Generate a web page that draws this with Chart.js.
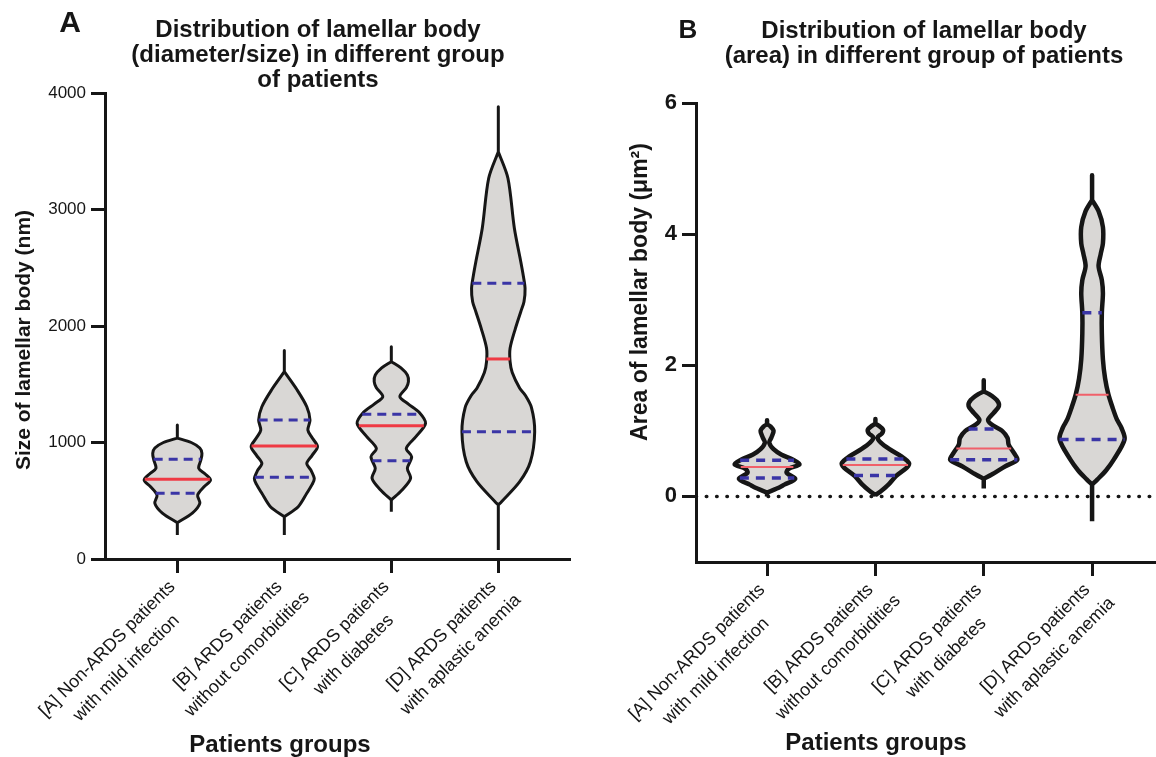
<!DOCTYPE html>
<html>
<head>
<meta charset="utf-8">
<script src="https://cdn.jsdelivr.net/npm/chart.js@4.4.1/dist/chart.umd.min.js"></script>
<style>
  html, body { margin: 0; padding: 0; background: #fff; }
  #wrap { position: relative; width: 1156px; height: 757px; overflow: hidden; }
  #chartA { position: absolute; left: 0; top: 0; }
  #chartB { position: absolute; left: 580px; top: 0; }
</style>
</head>
<body>
<div id="wrap">
  <canvas id="chartA" width="580" height="757"></canvas>
  <canvas id="chartB" width="576" height="757"></canvas>
</div>
<script>
"use strict";

// Kategorier (x-axel), två rader per etikett
const groupLabels = [
  ["[A] Non-ARDS patients", "with mild infection"],
  ["[B] ARDS patients", "without comorbidities"],
  ["[C] ARDS patients", "with diabetes"],
  ["[D] ARDS patients", "with aplastic anemia"]
];

// Panel A: storlek (nm)
const sizeTicks = [0, 1000, 2000, 3000, 4000];
const sizeMedian = [684, 970, 1144, 1717];
const sizeQ1 = [564, 701, 844, 1093];
const sizeQ3 = [856, 1193, 1242, 2367];
const sizeMin = [206, 206, 406, 77];
const sizeMax = [1150, 1790, 1822, 3883];
// violinkontur: nivåer (nm) och halva bredden (kategorienheter)
const sizeLevels = [
  [312, 394, 478, 549, 620, 678, 730, 778, 850, 907, 953, 1000, 1038],
  [363, 449, 564, 640, 690, 760, 821, 890, 964, 1040, 1107, 1193, 1307, 1451, 1608],
  [506, 592, 693, 778, 878, 950, 1050, 1165, 1260, 1330, 1393, 1470, 1522, 1579, 1640, 1694],
  [464, 492, 664, 835, 1093, 1300, 1408, 1465, 1600, 1694, 1809, 1980, 2123, 2209, 2323, 2450, 2552, 2839, 3268, 3496]
];
const sizeWidths = [
  [0, 0.14, 0.21, 0.19, 0.25, 0.31, 0.26, 0.20, 0.22, 0.23, 0.21, 0.13, 0],
  [0, 0.13, 0.21, 0.26, 0.28, 0.25, 0.21, 0.26, 0.31, 0.26, 0.22, 0.24, 0.21, 0.12, 0],
  [0, 0.10, 0.18, 0.15, 0.19, 0.14, 0.23, 0.32, 0.26, 0.16, 0.08, 0.14, 0.16, 0.15, 0.09, 0],
  [0, 0.03, 0.20, 0.30, 0.34, 0.31, 0.25, 0.20, 0.13, 0.11, 0.11, 0.16, 0.21, 0.24, 0.25, 0.23, 0.21, 0.15, 0.09, 0]
];

// Panel B: area (µm²)
const areaTicks = [0, 2, 4, 6];
const areaMedian = [0.45, 0.48, 0.73, 1.55];
const areaQ1 = [0.28, 0.32, 0.56, 0.87];
const areaQ3 = [0.55, 0.57, 1.03, 2.80];
const areaMin = [0.0, 0.0, 0.12, -0.38];
const areaMax = [1.16, 1.18, 1.77, 4.90];
const areaLevels = [
  [0.06, 0.12, 0.18, 0.27, 0.36, 0.42, 0.49, 0.56, 0.64, 0.72, 0.82, 0.90, 1.00, 1.07, 1.10],
  [0.02, 0.08, 0.18, 0.31, 0.44, 0.51, 0.61, 0.72, 0.82, 0.90, 0.96, 1.02, 1.08, 1.11],
  [0.27, 0.33, 0.46, 0.56, 0.66, 0.79, 0.89, 1.00, 1.10, 1.17, 1.27, 1.38, 1.47, 1.56, 1.60],
  [0.18, 0.26, 0.40, 0.56, 0.87, 1.05, 1.17, 1.35, 1.56, 1.80, 2.09, 2.49, 2.80, 3.10, 3.30, 3.51, 3.70, 3.86, 4.11, 4.35, 4.52]
];
const areaWidths = [
  [0, 0.09, 0.16, 0.26, 0.18, 0.20, 0.30, 0.24, 0.13, 0.06, 0.02, 0.04, 0.06, 0.03, 0],
  [0, 0.05, 0.12, 0.19, 0.29, 0.31, 0.24, 0.13, 0.05, 0.02, 0.06, 0.07, 0.03, 0],
  [0, 0.07, 0.20, 0.31, 0.28, 0.23, 0.22, 0.17, 0.07, 0.04, 0.09, 0.14, 0.12, 0.05, 0],
  [0, 0.05, 0.13, 0.20, 0.30, 0.27, 0.23, 0.19, 0.15, 0.12, 0.10, 0.09, 0.09, 0.10, 0.09, 0.06, 0.08, 0.10, 0.10, 0.06, 0]
];

const FONT = '"Liberation Sans", Arial, Helvetica, sans-serif';
const INK = '#161616';
const FILL = '#d9d7d5';
const BLUE = '#3a35a6';

window.onload = init;

function init() {
  createViolinChart('chartA', {
    levels: sizeLevels, widths: sizeWidths, median: sizeMedian, q1: sizeQ1, q3: sizeQ3,
    min: sizeMin, max: sizeMax, ticks: sizeTicks,
    yMin: 0, yMax: 4000, xMin: 0.324, xMax: 4.67,
    padTop: 93, padRight: 10, yWidth: 105, xHeight: 198,
    tickFont: { family: FONT, size: 17 },
    outline: 3, redColor: '#ef3a44', redWidth: 3, blueWidth: 3, dash: [9, 6],
    zeroLine: false,
    text: {
      letter: 'A', letterSize: 30, letterX: 70, letterY: 24,
      title: ['Distribution of lamellar body', '(diameter/size) in different group', 'of patients'],
      titleSize: 24, titleX: 318, titleY: 30,
      xTitleX: 280, xTitleY: 745,
      yTitle: 'Size of lamellar body (nm)', yTitleSize: 21, yTitleX: 24, yTitleY: 340
    }
  });

  createViolinChart('chartB', {
    levels: areaLevels, widths: areaWidths, median: areaMedian, q1: areaQ1, q3: areaQ3,
    min: areaMin, max: areaMax, ticks: areaTicks,
    yMin: -1, yMax: 6, xMin: 0.344, xMax: 4.59,
    padTop: 103, padRight: 0, yWidth: 116, xHeight: 195,
    tickFont: { family: FONT, size: 22, weight: 'bold' },
    outline: 4.5, redColor: '#f0606a', redWidth: 2, blueWidth: 3.5, dash: [9, 7],
    zeroLine: true,
    text: {
      letter: 'B', letterSize: 26, letterX: 108, letterY: 31,
      title: ['Distribution of lamellar body', '(area) in different group of patients'],
      titleSize: 24, titleX: 344, titleY: 31,
      xTitleX: 296, xTitleY: 743,
      yTitle: 'Area of lamellar body (\u03bcm\u00b2)', yTitleSize: 23, yTitleX: 61, yTitleY: 292
    }
  });
}

// halva bredden vid ett visst värde (linjär interpolering i konturen)
function widthAt(levels, widths, v) {
  for (let k = 1; k < levels.length; k++) {
    if (v <= levels[k]) {
      const t = (v - levels[k - 1]) / (levels[k] - levels[k - 1]);
      return widths[k - 1] + t * (widths[k] - widths[k - 1]);
    }
  }
  return 0;
}

// sluten kontur: svans nere, högersida upp, svans uppe, vänstersida ner
// spetsarna dubbleras så att svansarna blir raka och spetsarna spetsiga
function outline(center, levels, widths, lo, hi) {
  const n = levels.length;
  const tipLo = { x: center, y: levels[0] };
  const tipHi = { x: center, y: levels[n - 1] };
  const right = levels.slice(1, n - 1).map((v, k) => ({ x: center + widths[k + 1], y: v }));
  const left = levels.slice(1, n - 1).map((v, k) => ({ x: center - widths[k + 1], y: v })).reverse();
  return [
    { x: center, y: lo }, tipLo, { ...tipLo }, ...right, tipHi, { ...tipHi },
    { x: center, y: hi }, { ...tipHi }, { ...tipHi }, ...left, { ...tipLo }, { ...tipLo },
    { x: center, y: lo }
  ];
}

function hLine(center, w, v) {
  return [{ x: center - w, y: v }, { x: center + w, y: v }];
}

const textPlugin = {
  id: 'panelText',
  afterDraw(chart, args, o) {
    const ctx = chart.ctx;
    ctx.save();
    ctx.fillStyle = INK;
    ctx.textAlign = 'center';
    ctx.textBaseline = 'middle';

    ctx.font = 'bold ' + o.letterSize + 'px ' + FONT;
    ctx.fillText(o.letter, o.letterX, o.letterY);

    ctx.font = 'bold ' + o.titleSize + 'px ' + FONT;
    o.title.forEach((line, k) => ctx.fillText(line, o.titleX, o.titleY + k * 25));

    ctx.font = 'bold 24px ' + FONT;
    ctx.fillText('Patients groups', o.xTitleX, o.xTitleY);

    ctx.save();
    ctx.translate(o.yTitleX, o.yTitleY);
    ctx.rotate(-Math.PI / 2);
    ctx.font = 'bold ' + o.yTitleSize + 'px ' + FONT;
    ctx.fillText(o.yTitle, 0, 0);
    ctx.restore();

    // roterade kategorietiketter
    const xs = chart.scales.x;
    const axisY = chart.chartArea.bottom;
    ctx.font = '18px ' + FONT;
    groupLabels.forEach((lines, i) => {
      const px = xs.getPixelForValue(i + 1);
      ctx.save();
      ctx.translate(px - 5, axisY + 25);
      ctx.rotate(-Math.PI / 4);
      const w1 = ctx.measureText(lines[0]).width;
      ctx.textAlign = 'right';
      ctx.fillText(lines[0], 0, 0);
      ctx.textAlign = 'center';
      ctx.fillText(lines[1], -w1 / 2, 27);
      ctx.restore();
    });
    ctx.restore();
  }
};

function createViolinChart(id, c) {
  const datasets = [];

  c.levels.forEach((levels, i) => {
    const center = i + 1;
    const w = c.widths[i];
    // median och kvartiler
    datasets.push({
      data: hLine(center, widthAt(levels, w, c.median[i]), c.median[i]),
      borderColor: c.redColor, borderWidth: c.redWidth, order: 0
    });
    [c.q1[i], c.q3[i]].forEach(q => {
      datasets.push({
        data: hLine(center, widthAt(levels, w, q), q),
        borderColor: BLUE, borderWidth: c.blueWidth, borderDash: c.dash, order: 0
      });
    });
    // violin
    datasets.push({
      data: outline(center, levels, w, c.min[i], c.max[i]),
      borderColor: INK, borderWidth: c.outline, backgroundColor: FILL,
      fill: 'shape', tension: 0.3, borderJoinStyle: 'round', order: 1
    });
  });

  if (c.zeroLine) {
    datasets.push({
      data: [{ x: c.xMin, y: 0 }, { x: c.xMax, y: 0 }],
      borderColor: INK, borderWidth: 3.5, borderDash: [0.5, 9.8], borderCapStyle: 'round', order: 2
    });
  }

  const axisGrid = { display: true, drawOnChartArea: false, tickLength: 14, tickWidth: 3, tickColor: INK };
  const axisBorder = { display: true, width: 3, color: INK };

  new Chart(document.getElementById(id), {
    type: 'line',
    data: { datasets: datasets },
    options: {
      responsive: false,
      animation: false,
      devicePixelRatio: 1,
      layout: { padding: { top: c.padTop, right: c.padRight, left: 0, bottom: 0 } },
      elements: { point: { radius: 0, hoverRadius: 0 }, line: { fill: false } },
      scales: {
        x: {
          type: 'linear', min: c.xMin, max: c.xMax,
          afterBuildTicks: s => { s.ticks = [1, 2, 3, 4].map(v => ({ value: v })); },
          afterFit: s => { s.height = c.xHeight; },
          ticks: { callback: () => '', padding: 0 },
          grid: axisGrid, border: axisBorder
        },
        y: {
          type: 'linear', min: c.yMin, max: c.yMax,
          afterBuildTicks: s => { s.ticks = c.ticks.map(v => ({ value: v })); },
          afterFit: s => { s.width = c.yWidth; },
          ticks: { callback: v => String(v), font: c.tickFont, color: INK, padding: 5 },
          grid: axisGrid, border: axisBorder
        }
      },
      plugins: {
        legend: { display: false },
        tooltip: { enabled: false },
        panelText: c.text
      }
    },
    plugins: [textPlugin]
  });
}
</script>
</body>
</html>
